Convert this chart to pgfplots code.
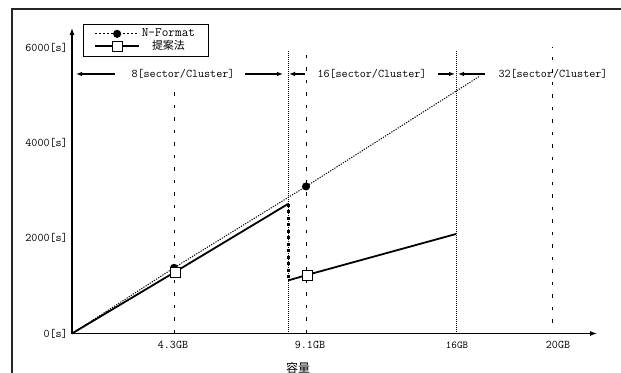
\documentclass[border=0pt]{standalone}
\usepackage{fontspec}
\setmainfont{Latin Modern Mono}[Scale=1.18]
\newfontfamily\cjk{Noto Sans CJK JP}
\usepackage{pgfplots}
\pgfplotsset{compat=1.18}
\usetikzlibrary{arrows.meta}
\begin{document}
\begin{tikzpicture}
\path[use as bounding box] (0,0) rectangle (621bp,373bp);
\draw[line width=1.6bp, black!85] (12bp,0bp) -- (12bp,364bp) -- (621bp,364bp);
\begin{axis}[
  at={(72bp,39.5bp)}, anchor=south west,
  scale only axis, width=525bp, height=305.5bp,
  xmin=0, xmax=525, ymin=0, ymax=6420,
  axis lines=left,
  axis line style={line width=1.1bp, -{Latex[length=7bp,width=5bp]}},
  major tick length=0pt,
  xtick={101,238,385,486},
  xticklabels={4.3GB,9.1GB,{\small 16GB},20GB},
  ytick={0,2000,4000,6000},
  yticklabels={0[s],2000[s],4000[s],6000[s]},
  yticklabel style={xshift=-3bp, inner sep=1bp},
  xticklabel style={yshift=-4bp},
  xlabel={\cjk\fontsize{12}{14}\selectfont 容量},
  xlabel style={at={(axis description cs:0.4305,-0.113)}, anchor=center},
  clip=false,
  legend cell align=center,
  legend style={at={(axis description cs:0.021,1.013)}, anchor=north west,
    draw=black, line width=1bp, inner xsep=11bp, inner ysep=2.5bp, row sep=-2bp,
    font=\fontsize{11}{13}\selectfont, /tikz/every even column/.append style={column sep=4bp}},
  legend image code/.code={
    \draw[mark repeat=2,mark phase=2,#1] plot coordinates {(0bp,0bp)(22bp,0bp)(44bp,0bp)};},
]
% legend entries
\addlegendimage{black, line width=1bp, dash pattern=on 2bp off 2bp, mark=*, mark size=3.5bp, mark options={solid}}
\addlegendentry{N-Format}
\addlegendimage{black, line width=1.3bp, mark=square*, mark size=5bp, mark options={solid, fill=white, line width=0.8bp}}
\addlegendentry{{\cjk\fontsize{11}{13}\selectfont 提案法}}

% vertical guide lines
\addplot[forget plot, black, line width=1bp, dash pattern=on 3.5bp off 9bp] coordinates {(102,0) (102,5076)};
\addplot[forget plot, black, line width=1bp, dash pattern=on 3.5bp off 9bp] coordinates {(234,0) (234,5853)};
\addplot[forget plot, black, line width=1bp, dash pattern=on 3.5bp off 9bp] coordinates {(480,221) (480,6022)};
\addplot[forget plot, black, line width=0.6bp, dash pattern=on 0.8bp off 1.2bp] coordinates {(216,0) (216,5958)};
\addplot[forget plot, black, line width=0.6bp, dash pattern=on 0.8bp off 1.2bp] coordinates {(384,0) (384,5958)};

% N-Format
\addplot[forget plot, black, line width=1bp, dash pattern=on 1.2bp off 1.3bp, mark=*, mark size=3.5bp, mark indices={2,3}, mark options={solid}]
  coordinates {(0,0) (102,1380) (234,3090) (408,5412)};

% proposed
\addplot[forget plot, black, line width=1.8bp, mark=square*, mark size=5bp, mark indices={2}, mark options={solid, fill=white, line width=0.8bp}]
  coordinates {(0,0) (103,1293) (216,2722)};
\addplot[forget plot, black, line width=3bp, dash pattern=on 3bp off 3.5bp]
  coordinates {(216,2722) (216,1114)};
\addplot[forget plot, black, line width=1.8bp, mark=square*, mark size=5bp, mark indices={2}, mark options={solid, fill=white, line width=0.8bp}]
  coordinates {(216,1114) (235,1230) (384,2091)};

% range arrows
\draw[line width=1.2bp, -{Latex[length=6bp,width=4.5bp]}] (axis cs:43,5454) -- (axis cs:4,5454);
\draw[line width=1.2bp, -{Latex[length=6bp,width=4.5bp]}] (axis cs:173,5454) -- (axis cs:211,5454);
\draw[line width=1.2bp, -{Latex[length=6bp,width=4.5bp]}] (axis cs:233,5454) -- (axis cs:217,5454);
\draw[line width=1.2bp, -{Latex[length=6bp,width=4.5bp]}] (axis cs:366,5454) -- (axis cs:383,5454);
\draw[line width=1.2bp, -{Latex[length=6bp,width=4.5bp]}] (axis cs:413,5454) -- (axis cs:386,5454);
\node at (axis cs:111,5454) {8[sector/Cluster]};
\node at (axis cs:300,5454) {16[sector/Cluster]};
\node at (axis cs:481,5454) {32[sector/Cluster]};
\end{axis}
\end{tikzpicture}
\end{document}
